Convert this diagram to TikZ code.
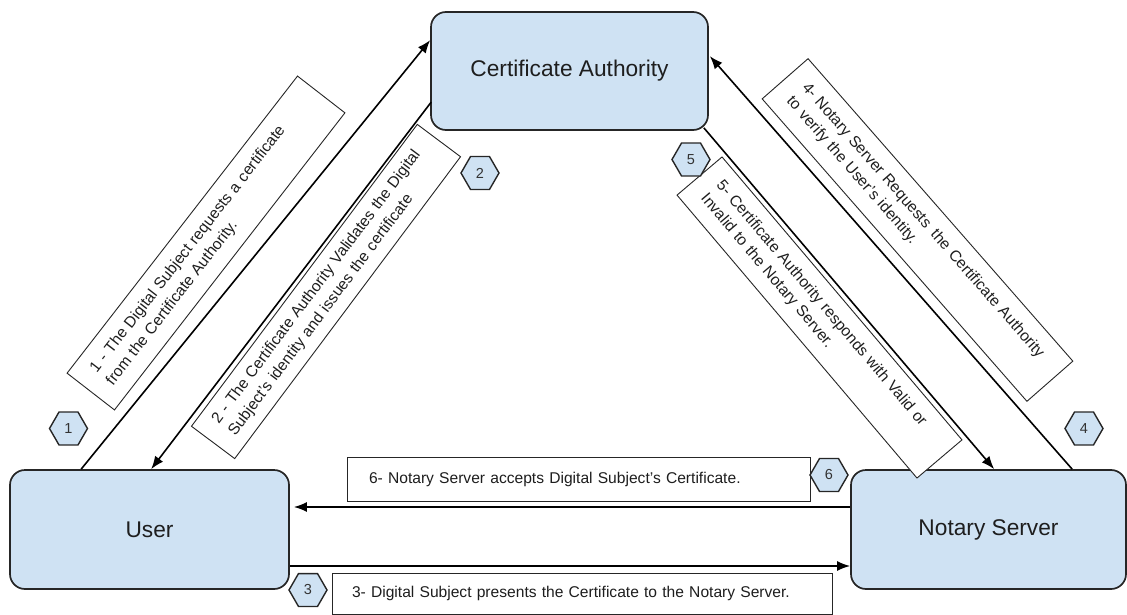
\documentclass[tikz,border=0pt]{standalone}
\usepackage{fontspec}
\setmainfont{Liberation Sans}
\usetikzlibrary{arrows.meta,shapes.geometric,calc}

\definecolor{boxblue}{HTML}{CFE2F3}
\definecolor{edge}{HTML}{262626}
\definecolor{ink}{HTML}{1E1E1E}

\begin{document}
\begin{tikzpicture}[x=1pt,y=-1pt,
  party/.style={draw=edge, line width=1.7pt, fill=boxblue, rounded corners=15pt,
    inner sep=0pt, font=\fontsize{22.7}{26}\selectfont, text=ink},
  flow/.style={draw=black, line width=1.6pt, -{Latex[length=13pt,width=10pt]}},
  note/.style={draw=black!85, line width=0.9pt, fill=white, align=left,
    inner xsep=18pt, inner ysep=0pt, font=\fontsize{15.6}{20.5}\selectfont, text=ink},
  badge/.style={regular polygon, regular polygon sides=6, draw=edge, line width=1.4pt,
    fill=boxblue, minimum size=38pt, inner sep=0pt,
    font=\fontsize{14.5}{16}\selectfont, text=black!80}
]
\useasboundingbox (0,0) rectangle (1127,615);

% the three parties
\node[party, minimum width=277pt, minimum height=118pt] (ca) at (569.5,71) {\raisebox{-2pt}{Certificate Authority}};
\node[party, minimum width=279pt, minimum height=119pt] (user) at (149.5,529.5) {User};
\node[party, minimum width=275pt, minimum height=119pt] (notary) at (988.5,529.5) {Notary Server};

% message flows
\draw[flow] ($(user.north west)+(72,0)$) -- ($(ca.north west)+(0,29)$);
\draw[flow] ($(ca.north west)+(1,91)$) -- ($(user.north west)+(142,0)$);
\draw[flow] ($(user.east)+(0,36.5)$) -- ($(notary.west)+(0,36.5)$);
\draw[flow] ($(notary.north west)+(222,0)$) -- ($(ca.north east)+(1,45)$);
\draw[flow] ($(ca.south east)+(-5,-3)$) -- ($(notary.north west)+(144,0)$);
\draw[flow] ($(notary.west)+(0,-22.5)$) -- ($(user.east)+(4,-22.5)$);

% step descriptions
\node[note, rotate=52.2, text width=340pt, minimum height=60pt] (n1) at (206,243)
  {1 - The Digital Subject requests a certificate\\from the Certificate Authority.};
\node[note, rotate=53.2, text width=341pt, minimum height=54pt] (n2) at (326,291.5)
  {2 - The Certificate Authority Validates the Digital\\Subject's identity and issues the certificate};
\node[note, rotate=-48.8, text width=366pt, minimum height=61pt] (n4) at (917.5,230)
  {4- Notary Server Requests\hspace{2.5pt} the Certificate Authority\\to verify the User's identity.};
\node[note, rotate=-49.7, text width=335pt, minimum height=59pt] (n5) at (819.5,317.5)
  {5- Certificate Authority responds with Valid or\\Invalid to the Notary Server.};
\node[note, inner xsep=22pt, text width=419pt, minimum height=44pt] (n6) at (578.5,479)
  {6- Notary Server accepts Digital Subject's Certificate.};
\node[note, inner xsep=20pt, text width=460pt, minimum height=41pt] (n3) at (582,593.5)
  {3- Digital Subject presents the Certificate to the Notary Server.};

% step numbers
\node[badge] (b1) at (68.5,428.5) {1};
\node[badge] (b2) at (480,173) {2};
\node[badge] (b3) at (308,590) {3};
\node[badge] (b4) at (1084,428.5) {4};
\node[badge] (b5) at (691,159.5) {5};
\node[badge] (b6) at (829,475) {6};
\end{tikzpicture}
\end{document}
